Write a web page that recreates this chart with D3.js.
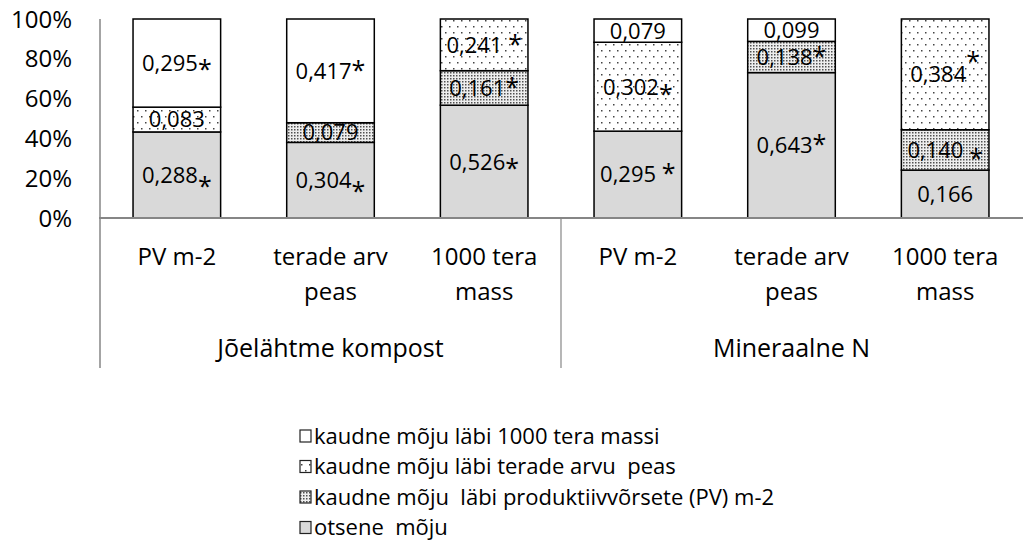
<!DOCTYPE html>
<html>
<head>
<meta charset="utf-8">
<script src="https://cdn.jsdelivr.net/npm/d3@7"></script>
<style>
  html, body { margin: 0; padding: 0; background: #fff; }
  svg { display: block; font-family: "Open Sans", sans-serif; }
  text { white-space: pre; fill: #000; }
</style>
</head>
<body>
<svg id="chart" width="1023" height="557"></svg>
<script>
// Categories: sub-level (trait) within top-level (fertiliser) groups
const groups = ["Jõelähtme kompost", "Mineraalne N"];
const traits = [["PV m-2"], ["terade arv", "peas"], ["1000 tera", "mass"]];
const categories = ["JK-PV", "JK-TA", "JK-TM", "MN-PV", "MN-TA", "MN-TM"];

// Path coefficients per category (0 = path not present)
const otsene   = [0.288, 0.304, 0.526, 0.295, 0.643, 0.166];
const viaPV    = [0,     0.079, 0.161, 0,     0.138, 0.140];
const viaTerad = [0.083, 0,     0.241, 0.302, 0,     0.384];
const viaMass  = [0.295, 0.417, 0,     0.079, 0.099, 0];

// Significance flags (1 = significant, marked with *)
const sigOtsene = [1, 1, 1, 1, 1, 0];
const sigPV     = [0, 0, 1, 0, 1, 1];
const sigTerad  = [0, 0, 1, 1, 0, 1];
const sigMass   = [1, 1, 0, 0, 0, 0];

const yTicks = [0, 0.2, 0.4, 0.6, 0.8, 1.0];

const legendLabels = {
  mass:  "kaudne mõju läbi 1000 tera massi",
  terad: "kaudne mõju läbi terade arvu  peas",
  pv:    "kaudne mõju  läbi produktiivvõrsete (PV) m-2",
  ots:   "otsene  mõju"
};

// Vertical shift of the asterisk for each label (styling only)
const starShift = {
  ots:   [12, 12, 7, 0, 0, 0],
  pv:    [0, 0, 0, 0, 0, 9],
  terad: [0, 0, 0, 8, 0, -12],
  mass:  [7, 0, 0, 0, 0, 0]
};
const starGap = {
  ots:   ["", "", "", " ", "", ""],
  pv:    ["", "", "", "", "", " "],
  terad: ["", "", " ", "", "", ""],
  mass:  ["", "", "", "", "", ""]
};

const rows = categories.map((c, i) => ({
  cat: c, ots: otsene[i], pv: viaPV[i], terad: viaTerad[i], mass: viaMass[i]
}));
const sig = { ots: sigOtsene, pv: sigPV, terad: sigTerad, mass: sigMass };
const keys = ["ots", "pv", "terad", "mass"];

const svg = d3.select("#chart");
const defs = svg.append("defs");

// Sparse dotted fill
const pSparse = defs.append("pattern").attr("id", "sparse")
  .attr("patternUnits", "userSpaceOnUse").attr("width", 8).attr("height", 12);
pSparse.append("rect").attr("width", 8).attr("height", 12).attr("fill", "#fff");
pSparse.append("rect").attr("x", 1).attr("y", 2).attr("width", 1.5).attr("height", 1.5).attr("fill", "#444");
pSparse.append("rect").attr("x", 5).attr("y", 8).attr("width", 1.5).attr("height", 1.5).attr("fill", "#444");

// Dense dotted fill
const pDense = defs.append("pattern").attr("id", "dense")
  .attr("patternUnits", "userSpaceOnUse").attr("width", 3).attr("height", 3);
pDense.append("rect").attr("width", 3).attr("height", 3).attr("fill", "#eeeeee");
pDense.append("rect").attr("x", 0).attr("y", 0).attr("width", 1.5).attr("height", 1.5).attr("fill", "#505050");

const fills = { ots: "#d9d9d9", pv: "url(#dense)", terad: "url(#sparse)", mass: "#ffffff" };

const x = d3.scaleBand().domain(categories).range([100, 1022])
  .paddingInner(0.43).paddingOuter(0.215);
const y = d3.scaleLinear().domain([0, 1]).range([218, 19]);

const stack = d3.stack().keys(keys).offset(d3.stackOffsetExpand);
const series = stack(rows);

// Y tick labels
svg.append("g").selectAll("text").data(yTicks).join("text")
  .attr("x", 72).attr("y", d => y(d)).attr("dy", "0.36em")
  .attr("text-anchor", "end").attr("font-size", 24)
  .text(d => d3.format(".0%")(d));

// Bars
const barG = svg.append("g");
series.forEach(s => {
  barG.append("g").selectAll("rect").data(s.filter(d => d[1] - d[0] > 0)).join("rect")
    .attr("x", d => x(d.data.cat))
    .attr("width", x.bandwidth())
    .attr("y", d => y(d[1]))
    .attr("height", d => y(d[0]) - y(d[1]))
    .attr("fill", fills[s.key])
    .attr("stroke", "#000").attr("stroke-width", 1.5);
});

// Axes lines
const axisColor = "#868686";
svg.append("line").attr("x1", 100).attr("x2", 100).attr("y1", 19).attr("y2", 368)
  .attr("stroke", axisColor).attr("stroke-width", 1.5);
svg.append("line").attr("x1", 99).attr("x2", 1023).attr("y1", y(0)).attr("y2", y(0))
  .attr("stroke", axisColor).attr("stroke-width", 2.2);
const midX = (x(categories[2]) + x.bandwidth() + x(categories[3])) / 2;
svg.append("line").attr("x1", midX).attr("x2", midX).attr("y1", y(0)).attr("y2", 368)
  .attr("stroke", axisColor).attr("stroke-width", 1.2);

// Value labels
const labG = svg.append("g").attr("font-size", 22);
series.forEach(s => {
  s.forEach((d, i) => {
    const v = rows[i][s.key];
    if (!v) return;
    const cx = x(d.data.cat) + x.bandwidth() / 2;
    const cy = (y(d[0]) + y(d[1])) / 2;
    const t = labG.append("text").attr("x", cx).attr("y", cy).attr("dy", "0.36em")
      .attr("text-anchor", "middle");
    t.append("tspan").text(d3.format(".3f")(v).replace(".", ",") + (sig[s.key][i] ? starGap[s.key][i] : ""));
    if (sig[s.key][i]) {
      t.append("tspan").attr("dy", starShift[s.key][i]).attr("font-size", 25).text("*");
    }
  });
});

// Category labels
const catG = svg.append("g").attr("font-size", 24).attr("text-anchor", "middle");
categories.forEach((c, i) => {
  const lines = traits[i % 3];
  const cx = x(c) + x.bandwidth() / 2;
  lines.forEach((ln, j) => {
    catG.append("text").attr("x", cx).attr("y", 256 + j * 35).attr("dy", "0.36em").text(ln);
  });
});
groups.forEach((g, gi) => {
  const left = gi === 0 ? 100 : midX;
  const right = gi === 0 ? midX : 1022;
  catG.append("text").attr("x", (left + right) / 2).attr("y", 348).attr("dy", "0.36em")
    .attr("font-size", 25).text(g);
});

// Legend
const legendOrder = ["mass", "terad", "pv", "ots"];
const legG = svg.append("g").attr("font-size", 22);
legendOrder.forEach((k, i) => {
  const cy = 436 + i * 30.5;
  legG.append("rect").attr("x", 300).attr("y", cy - 6).attr("width", 11).attr("height", 12)
    .attr("fill", fills[k]).attr("stroke", "#222").attr("stroke-width", 1.2);
  legG.append("text").attr("x", 314).attr("y", cy).attr("dy", "0.36em").text(legendLabels[k]);
});
</script>
</body>
</html>
